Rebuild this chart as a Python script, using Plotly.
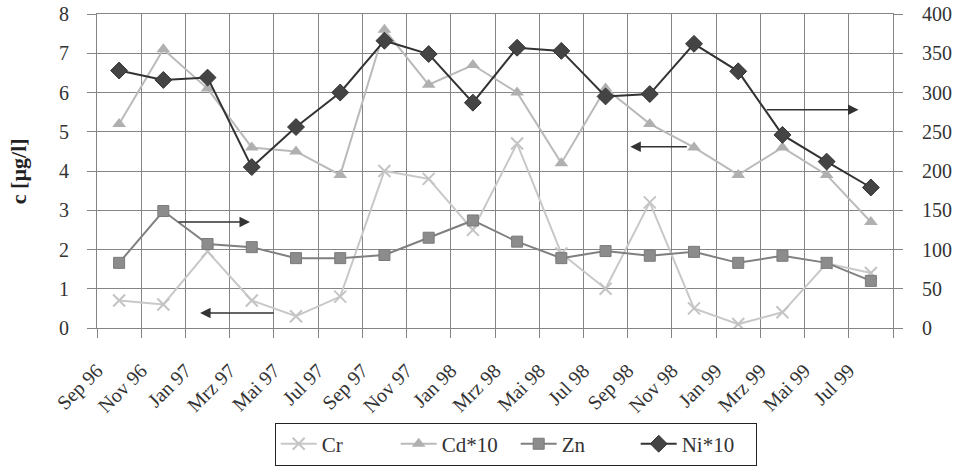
import plotly.graph_objects as go

# ---- data ----
tick_labels = ["Sep 96", "Nov 96", "Jan 97", "Mrz 97", "Mai 97", "Jul 97", "Sep 97", "Nov 97",
               "Jan 98", "Mrz 98", "Mai 98", "Jul 98", "Sep 98", "Nov 98", "Jan 99", "Mrz 99",
               "Mai 99", "Jul 99", ""]
# sampling points lie midway between the labelled ticks
sample_pos = [i + 0.5 for i in range(18)]

cr = [0.7, 0.6, 1.95, 0.7, 0.3, 0.8, 4.0, 3.8, 2.5, 4.7, 1.9, 1.0, 3.2, 0.5, 0.1, 0.4, 1.65, 1.4]
cd10 = [5.2, 7.1, 6.1, 4.6, 4.5, 3.9, 7.6, 6.2, 6.7, 6.0, 4.2, 6.1, 5.2, 4.6, 3.9, 4.6, 3.9, 2.7]
zn = [83, 149, 107, 103, 89, 89, 93, 115, 137, 110, 89, 98, 92, 97, 83, 92, 83, 60]
ni10 = [328, 316, 319, 205, 256, 300, 366, 349, 287, 357, 353, 295, 298, 362, 327, 246, 212, 179]

# arrows: (tail_x, head_x, y on left axis)
arrows = [(1.81, 3.46, 2.7), (4.03, 2.33, 0.38), (13.37, 12.06, 4.62), (15.11, 17.22, 5.56)]

FONT = "Liberation Serif"
GRID = "#858585"
TXT = "#333333"

fig = go.Figure()
fig.add_trace(go.Scatter(
    x=sample_pos, y=cr, name="Cr", mode="lines+markers",
    line=dict(color="#c8c8c8", width=2),
    marker=dict(symbol="x-thin", size=12, line=dict(color="#c4c4c4", width=2)),
))
fig.add_trace(go.Scatter(
    x=sample_pos, y=cd10, name="Cd*10", mode="lines+markers",
    line=dict(color="#bababa", width=2),
    marker=dict(symbol="triangle-up", size=12, color="#b0b0b0"),
))
fig.add_trace(go.Scatter(
    x=sample_pos, y=zn, name="Zn", mode="lines+markers", yaxis="y2",
    line=dict(color="#808080", width=2),
    marker=dict(symbol="square", size=11, color="#8c8c8c", line=dict(color="#7a7a7a", width=1)),
))
fig.add_trace(go.Scatter(
    x=sample_pos, y=ni10, name="Ni*10", mode="lines+markers", yaxis="y2",
    line=dict(color="#333333", width=2),
    marker=dict(symbol="diamond", size=13, color="#444444", line=dict(color="#333333", width=1)),
))

for tx, hx, yy in arrows:
    fig.add_annotation(
        x=hx, y=yy, ax=tx, ay=yy, xref="x", yref="y", axref="x", ayref="y",
        text="", showarrow=True, arrowhead=2, arrowsize=1.4, arrowwidth=1.5,
        arrowcolor="#333333",
    )

fig.add_annotation(
    text="<b>c [µg/l]</b>", xref="paper", yref="paper", x=-0.099, y=0.5,
    xanchor="center", yanchor="middle",
    textangle=-90, showarrow=False, font=dict(family=FONT, size=22, color="#222222"),
)

fig.update_layout(
    width=958, height=467,
    margin=dict(l=97, r=65, t=14, b=139),
    paper_bgcolor="white", plot_bgcolor="white",
    font=dict(family=FONT, size=20, color=TXT),
    showlegend=True,
    legend=dict(
        orientation="h", xref="paper", x=0.526, xanchor="center",
        yref="container", y=0.003, yanchor="bottom",
        bordercolor="#222222", borderwidth=1, font=dict(family=FONT, size=21, color=TXT),
        entrywidth=69, entrywidthmode="pixels", itemwidth=36,
    ),
    xaxis=dict(
        range=[0, 18], tickmode="array", tickvals=list(range(19)), ticktext=tick_labels,
        tickangle=-45, ticks="outside", ticklen=9, tickcolor=GRID,
        ticklabelstandoff=13, automargin=False,
        showgrid=True, gridcolor=GRID, gridwidth=1,
        showline=True, linecolor=GRID, mirror=True, zeroline=False,
    ),
    yaxis=dict(
        range=[0, 8], dtick=1, ticks="outside", ticklen=9, tickcolor=GRID,
        ticklabelstandoff=14, automargin=False,
        showgrid=True, gridcolor=GRID, gridwidth=1,
        showline=True, linecolor=GRID, zeroline=False,
    ),
    yaxis2=dict(
        range=[0, 400], dtick=50, overlaying="y", side="right",
        ticks="outside", ticklen=9, tickcolor=GRID, showgrid=False,
        ticklabelstandoff=15, automargin=False,
        showline=True, linecolor=GRID, zeroline=False,
    ),
)

fig.write_html(
    "out.html",
    config={"displayModeBar": False},
    post_script="document.body.style.margin='0px';document.body.style.padding='0px';",
)
